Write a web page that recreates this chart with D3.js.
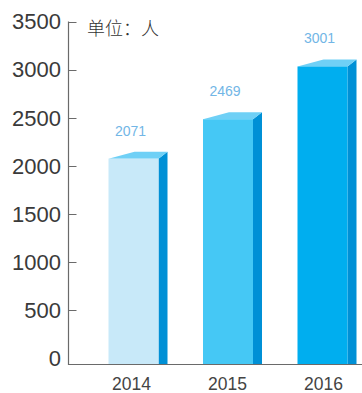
<!DOCTYPE html>
<html><head><meta charset="utf-8">
<script src="https://cdn.jsdelivr.net/npm/d3@7"></script>
<style>html,body{margin:0;padding:0;background:#fff;}svg{display:block;}</style>
</head><body>
<script>
const years = ["2014", "2015", "2016"];
const values = [2071, 2469, 3001];
const tickValues = [500, 1000, 1500, 2000, 2500, 3000, 3500];
const tickLabels = ["0", "500", "1000", "1500", "2000", "2500", "3000", "3500"];
const unitLabel = "单位：人";
const frontColors = ["#c8e9f9", "#45c8f5", "#00aeef"];

const W = 362, H = 393;
const svg = d3.select("body").append("svg").attr("width", W).attr("height", H);

const axisX = 68.5, baseY = 364;
const y = d3.scaleLinear().domain([0, 3500]).range([358.5, 21.5]);
const yBar = d3.scaleLinear().domain([0, 3500]).range([baseY, 17]);
const x = d3.scalePoint().domain(years).range([131.5, 323.5]);

const fw = 50, depth = 9, rise = 7, slant = 26;
const topColor = "#6fd0f6", sideColor = "#0090d6";
const font = "'Liberation Sans', Arial, Helvetica, sans-serif";

const g = svg.append("g");
years.forEach((yr, i) => {
  const cx = x(yr) + 0.5 - (i - 1) * 1.5;
  const x0 = cx - fw / 2, x1 = cx + fw / 2;
  const yt = yBar(values[i]);
  g.append("polygon")
    .attr("points", [[x1, yt], [x1 + depth, yt - rise], [x1 + depth, baseY], [x1, baseY]].map(p => p.join(",")).join(" "))
    .attr("fill", sideColor);
  g.append("polygon")
    .attr("points", [[x0, yt], [x0 + slant, yt - rise], [x1 + depth, yt - rise], [x1, yt]].map(p => p.join(",")).join(" "))
    .attr("fill", topColor);
  g.append("rect").attr("x", x0).attr("y", yt).attr("width", fw).attr("height", baseY - yt)
    .attr("fill", frontColors[i]);
  g.append("text").attr("x", cx - 3).attr("y", yt - 23)
    .attr("text-anchor", "middle").attr("font-family", font).attr("font-size", 14)
    .attr("fill", "#72b6e6").text(values[i]);
});

svg.append("line").attr("x1", axisX).attr("x2", axisX).attr("y1", y(3500)).attr("y2", baseY)
  .attr("stroke", "#6a6a6a").attr("stroke-width", 1.2);
svg.selectAll(".tick").data(tickValues).enter().append("line")
  .attr("x1", axisX).attr("x2", axisX + 8)
  .attr("y1", d => Math.round(y(d)) + 0.5).attr("y2", d => Math.round(y(d)) + 0.5)
  .attr("stroke", "#6a6a6a").attr("stroke-width", 1);
svg.selectAll(".tl").data([0].concat(tickValues)).enter().append("text")
  .attr("x", 61).attr("y", d => y(d) + 7.8)
  .attr("text-anchor", "end").attr("font-family", font).attr("font-size", 22)
  .attr("fill", "#3a3a3a").text((d, i) => tickLabels[i]);

svg.append("line").attr("x1", axisX - 0.6).attr("x2", W).attr("y1", baseY + 0.5).attr("y2", baseY + 0.5)
  .attr("stroke", "#6a6a6a").attr("stroke-width", 1.2);
svg.selectAll(".xl").data(years).enter().append("text")
  .attr("x", d => x(d)).attr("y", 390)
  .attr("text-anchor", "middle").attr("font-family", font).attr("font-size", 17.5)
  .attr("fill", "#444").text(d => d);

svg.append("text").attr("x", 87).attr("y", 35)
  .attr("font-family", "'Noto Sans CJK SC', sans-serif").attr("font-size", 18).attr("font-weight", 300)
  .attr("fill", "#333").text(unitLabel);
</script>
</body></html>
